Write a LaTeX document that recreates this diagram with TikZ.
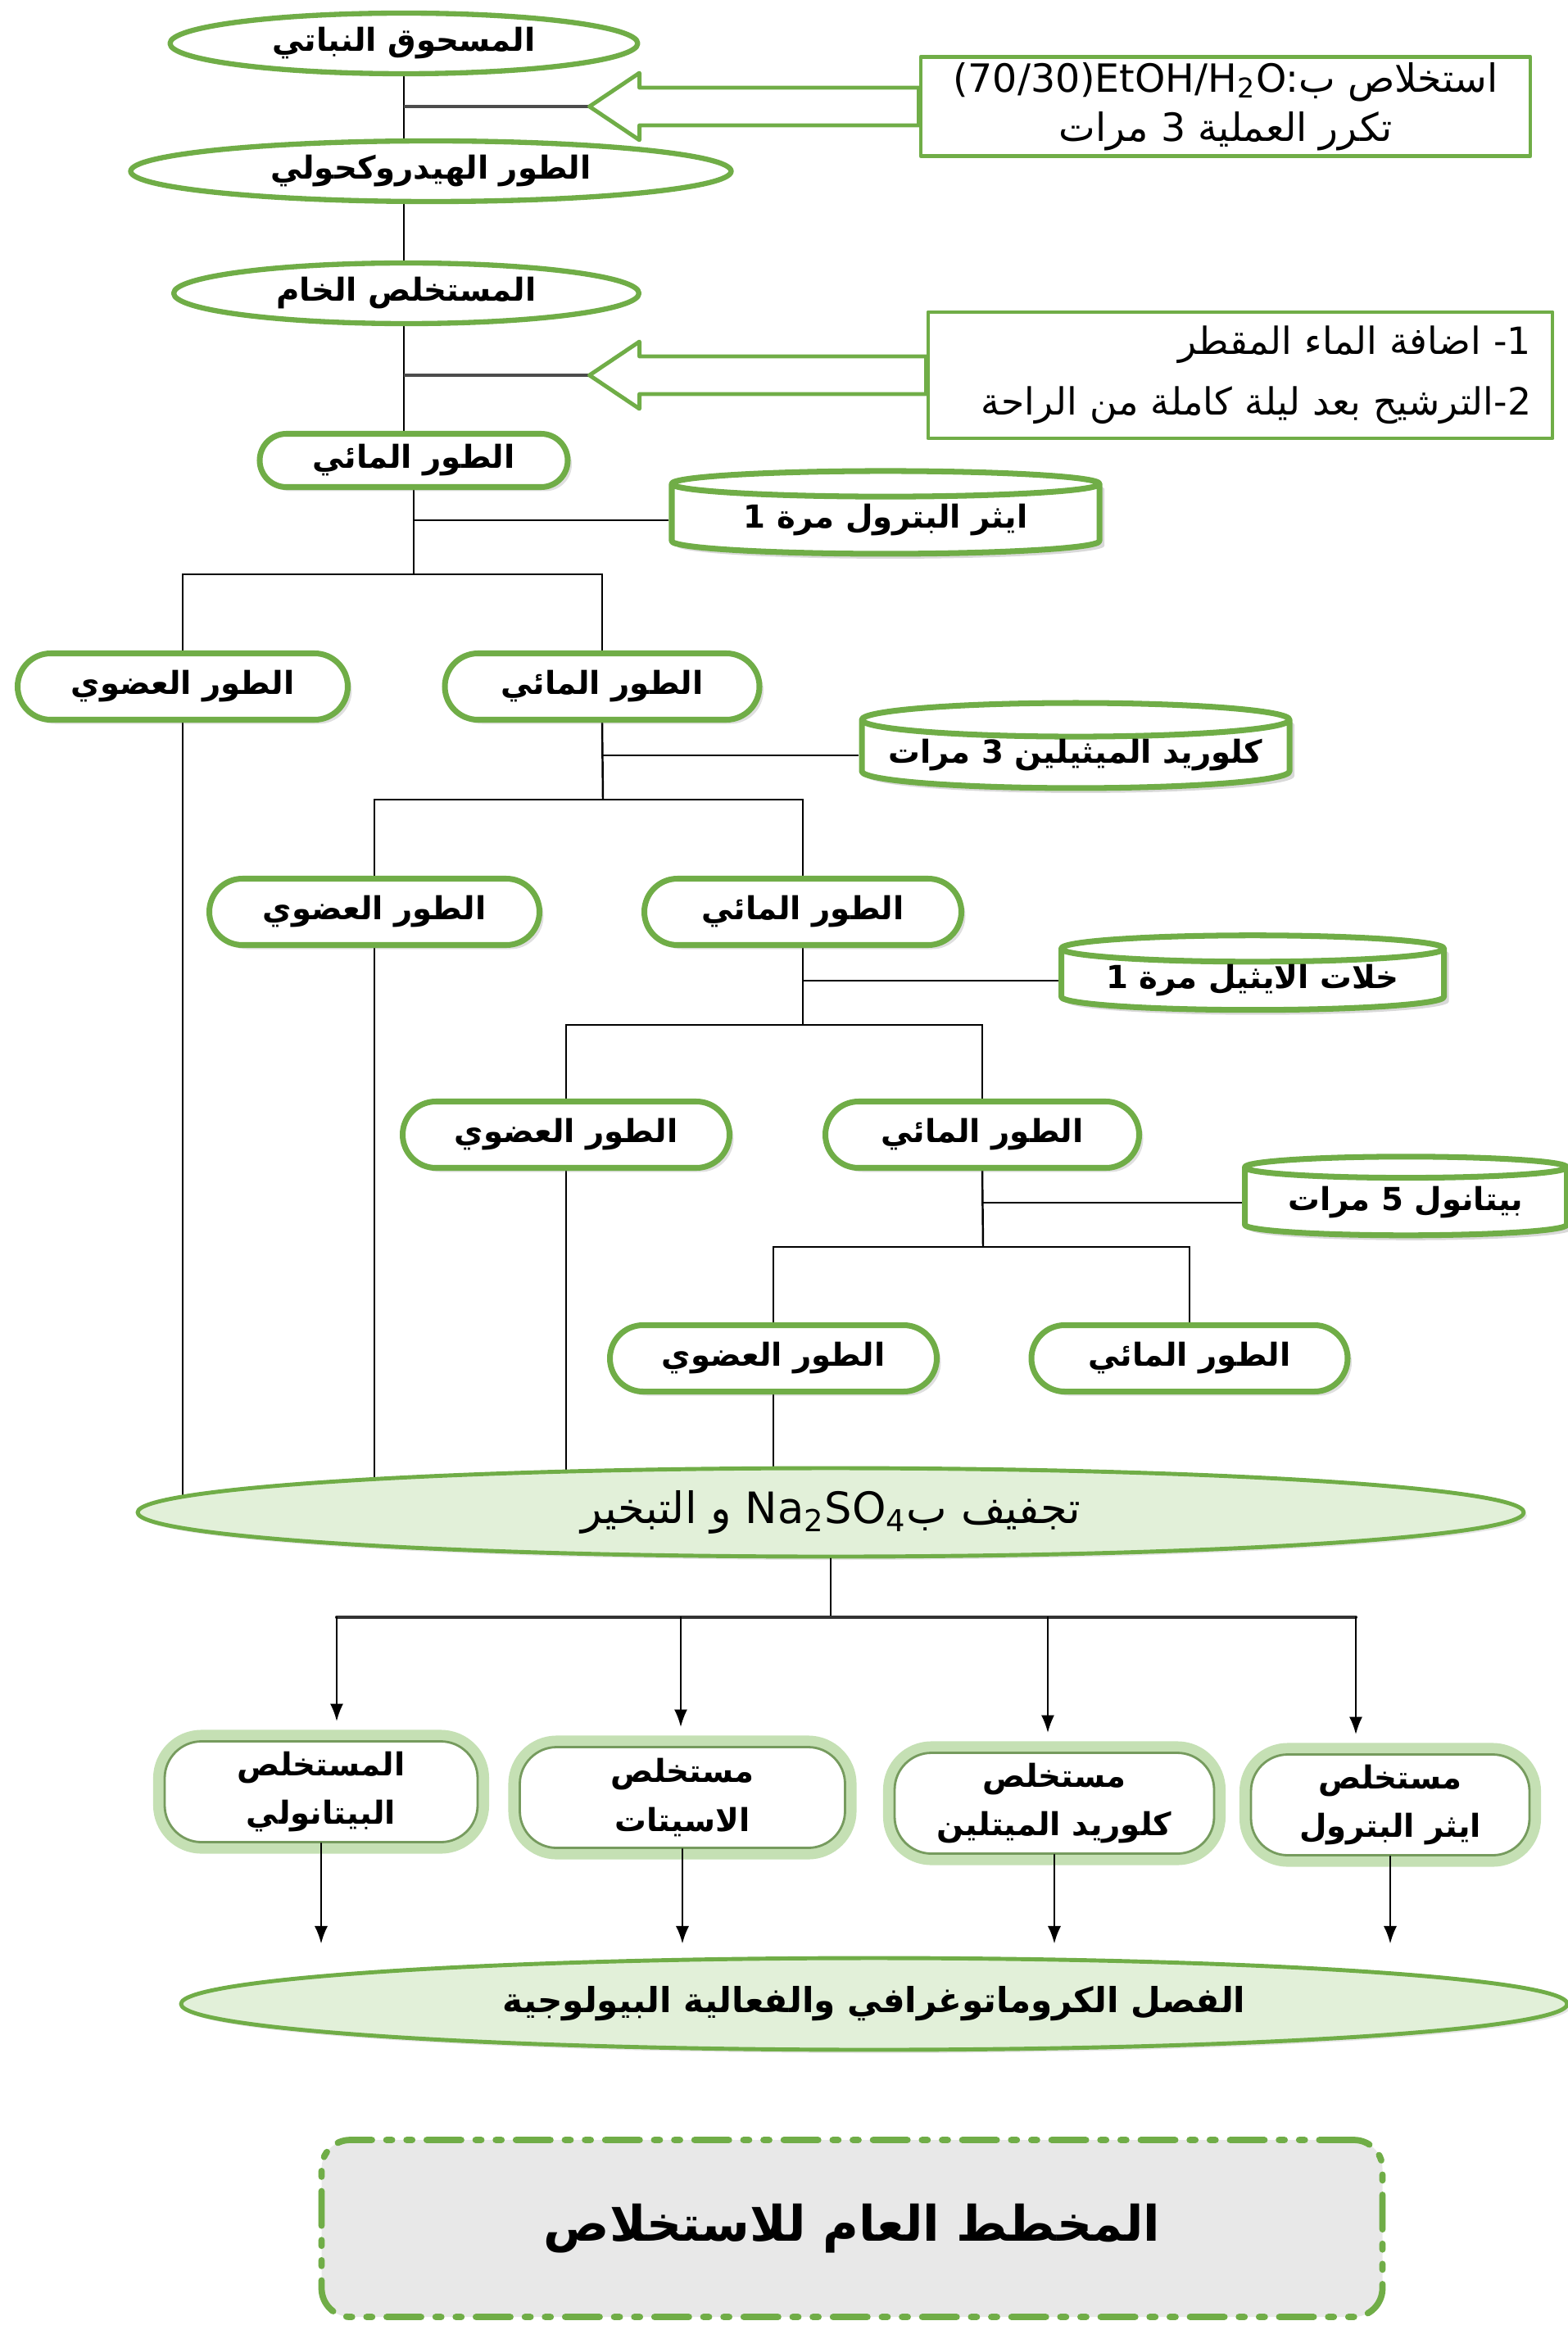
\documentclass[tikz,border=0pt]{standalone}
\usepackage{fontspec}
\newfontfamily\arabicfont[Script=Arabic]{DejaVu Sans}
\newfontfamily\latinfont{DejaVu Sans}
\TeXXeTstate=1
\usetikzlibrary{shapes.geometric,shapes.misc,arrows.meta,backgrounds,shadows}
\definecolor{leafgreen}{RGB}{112,173,71}
\definecolor{palegreen}{RGB}{226,240,217}
\definecolor{glowgreen}{RGB}{197,224,180}
\newcommand{\rtxt}[1]{\beginR#1\endR}
\newcommand{\ltxt}[1]{\beginL{\latinfont\mdseries#1}\endL{}}

\begin{document}
\begin{tikzpicture}[line join=round, line cap=round, >=Latex,
  font=\arabicfont\bfseries\fontsize{11}{14}\selectfont,
  stage/.style={ellipse, draw=leafgreen, line width=1.8pt, fill=white, inner sep=0pt, minimum height=0.74cm},
  phase/.style={rounded rectangle, draw=leafgreen, line width=2pt, fill=white, inner sep=0pt,
    minimum height=0.81cm, drop shadow={opacity=0.25, shadow xshift=0.05cm, shadow yshift=-0.05cm}},
  solvent/.style={cylinder, shape border rotate=90, aspect=0.09, draw=leafgreen, line width=2pt,
    fill=white, inner sep=0pt, drop shadow={opacity=0.3, shadow xshift=0.06cm, shadow yshift=-0.06cm}},
  note/.style={rectangle, draw=leafgreen, line width=1.4pt, fill=white, inner sep=0pt},
  hollow/.style={draw=leafgreen, line width=1.4pt, fill=white},
  feed/.style={draw=gray!60!black, line width=1.3pt},
  link/.style={draw=black, line width=0.7pt},
  bigoval/.style={ellipse, draw=leafgreen, line width=1.4pt, fill=palegreen, inner sep=0pt,
    drop shadow={opacity=0.2, shadow xshift=0.04cm, shadow yshift=-0.04cm}},
  extract/.style={rectangle, rounded corners=0.45cm, draw=leafgreen!60!gray, line width=0.8pt,
    fill=white, preaction={draw=glowgreen, line width=8pt}, align=center, inner sep=0pt,
    minimum height=1.23cm, font=\arabicfont\bfseries\fontsize{11}{17}\selectfont},
  titlebox/.style={rectangle, rounded corners=0.35cm, draw=leafgreen, line width=2.2pt,
    dash pattern=on 12pt off 5pt on 2pt off 5pt on 2pt off 5pt, fill=gray!18,
    minimum width=12.95cm, minimum height=2.16cm}]
\useasboundingbox (0,0) rectangle (19.13,-28.44);

% main chain
\node[stage, minimum width=5.71cm] (powder) at (4.93,-0.53) {\rtxt{المسحوق النباتي}};
\node[note, minimum width=7.44cm, minimum height=1.21cm, align=center,
  font=\arabicfont\mdseries\fontsize{13.5}{17}\selectfont] (note1) at (14.96,-1.30)
  {\rtxt{استخلاص ب\ltxt{(70/30)EtOH/H\textsubscript{2}O:}}\\ \rtxt{تكرر العملية 3 مرات}};
\node[stage, minimum width=7.33cm] (hydro) at (5.26,-2.09) {\rtxt{الطور الهيدروكحولي}};
\node[stage, minimum width=5.68cm] (crude) at (4.96,-3.58) {\rtxt{المستخلص الخام}};
\node[note, minimum width=7.62cm, minimum height=1.54cm, align=right, text width=7.1cm,
  font=\arabicfont\mdseries\fontsize{13}{21}\selectfont] (note2) at (15.14,-4.58)
  {\rtxt{1\kern0pt-\ اضافة الماء المقطر}\\ \rtxt{2\kern0pt-\kern0pt الترشيح بعد ليلة كاملة من الراحة}};
\node[phase, minimum width=3.76cm, minimum height=0.65cm] (aq0) at (5.05,-5.62) {\rtxt{الطور المائي}};

% block arrows
\draw[hollow] (note1.west) ++(0,0.23) -- ++(-3.41,0) -- ++(0,0.18) -- ++(-0.61,-0.41) coordinate (tip1)
  -- ++(0.61,-0.41) -- ++(0,0.18) -- ++(3.41,0) -- cycle;
\draw[hollow] (note2.west) ++(0,0.23) -- ++(-3.50,0) -- ++(0,0.18) -- ++(-0.61,-0.41) coordinate (tip2)
  -- ++(0.61,-0.41) -- ++(0,0.18) -- ++(3.50,0) -- cycle;

% liquid-liquid partitions
\node[solvent, minimum width=5.22cm, minimum height=1.01cm] (ether) at (10.81,-6.35) {\rtxt{ايثر البترول مرة 1}};
\node[phase, minimum width=4.03cm] (org1) at (2.23,-8.38) {\rtxt{الطور العضوي}};
\node[phase, minimum width=3.84cm] (aq1) at (7.35,-8.38) {\rtxt{الطور المائي}};
\node[solvent, minimum width=5.22cm, minimum height=0.90cm] (dcm) at (13.13,-9.22) {\rtxt{كلوريد الميثيلين 3 مرات}};
\node[phase, minimum width=4.03cm] (org2) at (4.57,-11.13) {\rtxt{الطور العضوي}};
\node[phase, minimum width=3.87cm] (aq2) at (9.80,-11.13) {\rtxt{الطور المائي}};
\node[solvent, minimum width=4.67cm, minimum height=0.91cm] (etac) at (15.29,-11.97) {\rtxt{خلات الايثيل مرة 1}};
\node[phase, minimum width=3.99cm] (org3) at (6.91,-13.85) {\rtxt{الطور العضوي}};
\node[phase, minimum width=3.83cm] (aq3) at (11.99,-13.85) {\rtxt{الطور المائي}};
\node[solvent, minimum width=3.93cm, minimum height=0.96cm] (buoh) at (17.16,-14.68) {\rtxt{بيتانول 5 مرات}};
\node[phase, minimum width=3.99cm] (org4) at (9.44,-16.58) {\rtxt{الطور العضوي}};
\node[phase, minimum width=3.86cm] (aq4) at (14.52,-16.58) {\rtxt{الطور المائي}};

\node[bigoval, minimum width=16.92cm, minimum height=1.08cm, font=\arabicfont\mdseries\fontsize{15}{18}\selectfont] (dry) at (10.14,-18.46)
  {\rtxt{تجفيف ب\ltxt{Na\textsubscript{2}SO\textsubscript{4}} و التبخير}};

% extracts
\node[extract, minimum width=3.82cm] (ext1) at (3.92,-21.87) {\rtxt{المستخلص}\\ \rtxt{البيتانولي}};
\node[extract, minimum width=3.97cm] (ext2) at (8.33,-21.94) {\rtxt{مستخلص}\\ \rtxt{الاسيتات}};
\node[extract, minimum width=3.90cm] (ext3) at (12.87,-22.01) {\rtxt{مستخلص}\\ \rtxt{كلوريد الميتلين}};
\node[extract, minimum width=3.40cm] (ext4) at (16.97,-22.03) {\rtxt{مستخلص}\\ \rtxt{ايثر البترول}};

\node[bigoval, minimum width=16.92cm, minimum height=1.12cm, font=\arabicfont\bfseries\fontsize{12}{15}\selectfont] (final) at (10.67,-24.46)
  {\rtxt{الفصل الكروماتوغرافي والفعالية البيولوجية}};

\node[titlebox] (title) at (10.40,-27.20) {\fontsize{17}{21}\selectfont\rtxt{المخطط العام للاستخلاص}};

\coordinate (s1) at (5.05,-7.01);
\coordinate (s2) at (7.36,-9.76);
\coordinate (s3) at (9.80,-12.51);
\coordinate (s4) at (12.00,-15.22);
\coordinate (b1) at (4.11,-19.74);
\coordinate (b2) at (8.31,-19.74);
\coordinate (b3) at (12.79,-19.74);
\coordinate (b4) at (16.55,-19.74);
\coordinate (hub) at (dry.south |- b1);

\begin{pgfonlayer}{background}
\draw[link] (powder.south) -- (powder.south |- aq0.north);
\draw[feed] (powder.south |- tip1) -- (tip1);
\draw[feed] (powder.south |- tip2) -- (tip2);
\draw[link] (aq0.south) -- (s1);
\draw[link] (aq0.south |- ether.west) -- (ether.west);
\draw[link] (org1.north) |- (s1) -| (aq1.north);
\draw[link] (aq1.south) -- (s2);
\draw[link] (aq1.south |- dcm.west) -- (dcm.west);
\draw[link] (org2.north) |- (s2) -| (aq2.north);
\draw[link] (aq2.south) -- (s3);
\draw[link] (aq2.south |- etac.west) -- (etac.west);
\draw[link] (org3.north) |- (s3) -| (aq3.north);
\draw[link] (aq3.south) -- (s4);
\draw[link] (aq3.south |- buoh.west) -- (buoh.west);
\draw[link] (org4.north) |- (s4) -| (aq4.north);
\foreach \o in {org1,org2,org3,org4}
  \draw[link] (\o.south) -- (\o.south |- dry.center);
\end{pgfonlayer}

\draw[link] (dry.south) -- (hub);
\draw[link, line width=1.2pt, draw=black!80] (b1) -- (b4);
\foreach \b/\e in {b1/ext1,b2/ext2,b3/ext3,b4/ext4}
  \draw[link, ->] (\b) -- ([yshift=0.23cm]\b |- \e.north);
\foreach \e in {ext1,ext2,ext3,ext4}
  \draw[link, ->] (\e.south) -- ([yshift=0.15cm]\e.south |- final.north);
\end{tikzpicture}
\end{document}
